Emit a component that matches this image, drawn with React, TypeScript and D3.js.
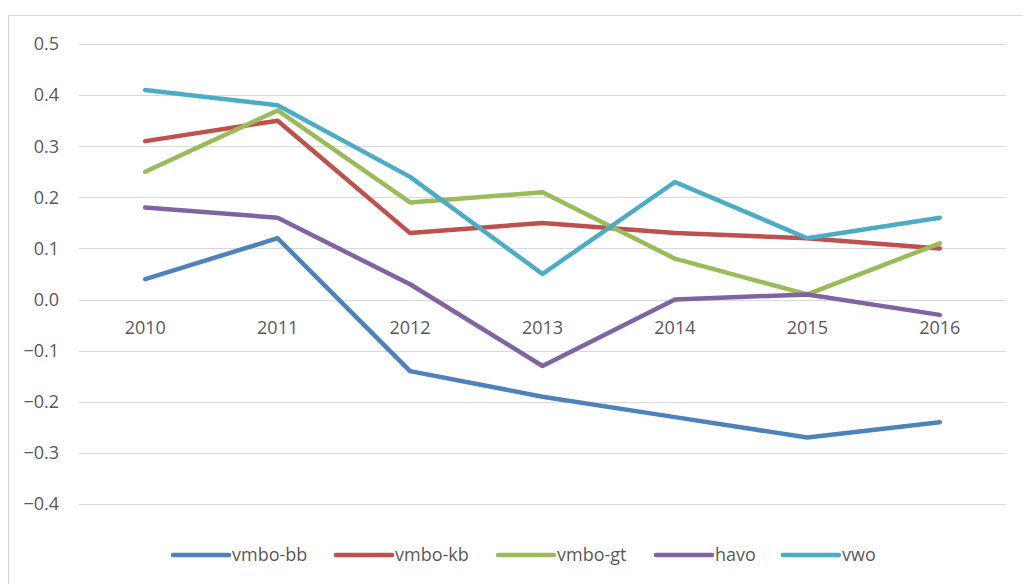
import React, { useEffect, useRef } from 'react'
import * as d3 from 'd3'

const years = ['2010', '2011', '2012', '2013', '2014', '2015', '2016']
const seriesNames = ['vmbo-bb', 'vmbo-kb', 'vmbo-gt', 'havo', 'vwo']
const colors = ['#4F81BD', '#C0504D', '#9BBB59', '#8064A2', '#4BACC6']
const vmboBB = [0.04, 0.12, -0.14, -0.19, -0.23, -0.27, -0.24]
const vmboKB = [0.31, 0.35, 0.13, 0.15, 0.13, 0.12, 0.10]
const vmboGT = [0.25, 0.37, 0.19, 0.21, 0.08, 0.01, 0.11]
const havo = [0.18, 0.16, 0.03, -0.13, 0.00, 0.01, -0.03]
const vwo = [0.41, 0.38, 0.24, 0.05, 0.23, 0.12, 0.16]
const yTicks = [0.5, 0.4, 0.3, 0.2, 0.1, 0.0, -0.1, -0.2, -0.3, -0.4]

const W = 1023
const H = 584
const FONT = "'Open Sans', 'Noto Sans', sans-serif"

export default function App() {
    const svgRef = useRef<SVGSVGElement>(null)

    useEffect(() => {
        if (!svgRef.current) return
        const svg = d3.select(svgRef.current)
        svg.selectAll('*').remove()

        const allSeries = [vmboBB, vmboKB, vmboGT, havo, vwo]

        // chart border
        svg.append('rect')
            .attr('x', 8.5).attr('y', 15.5)
            .attr('width', 1030).attr('height', 600)
            .attr('fill', '#fff')
            .attr('stroke', '#d9d9d9')

        const x = d3.scaleBand().domain(years).range([79, 1006])
        const y = d3.scaleLinear().domain([-0.4, 0.5]).range([504, 44])

        // gridlines
        svg.append('g').selectAll('line')
            .data(yTicks)
            .enter().append('line')
            .attr('x1', 79).attr('x2', 1006)
            .attr('y1', d => Math.round(y(d)) + 0.5)
            .attr('y2', d => Math.round(y(d)) + 0.5)
            .attr('stroke', '#d9d9d9')
            .attr('stroke-width', 1.2)

        // y labels
        svg.append('g').selectAll('text')
            .data(yTicks)
            .enter().append('text')
            .attr('x', 59)
            .attr('y', d => y(d))
            .attr('dy', '0.35em')
            .attr('text-anchor', 'end')
            .style('font-family', FONT)
            .style('font-size', '18px')
            .style('fill', '#595959')
            .text(d => d3.format('.1f')(d))

        // x labels (at zero line)
        svg.append('g').selectAll('text')
            .data(years)
            .enter().append('text')
            .attr('x', d => (x(d) as number) + x.bandwidth() / 2)
            .attr('y', y(0) + 28)
            .attr('dy', '0.35em')
            .attr('text-anchor', 'middle')
            .style('font-family', FONT)
            .style('font-size', '18px')
            .style('fill', '#595959')
            .text(d => d)

        const line = d3.line<number>()
            .x((d, i) => (x(years[i]) as number) + x.bandwidth() / 2)
            .y(d => y(d))

        allSeries.forEach((s, i) => {
            svg.append('path')
                .datum(s)
                .attr('fill', 'none')
                .attr('stroke', colors[i])
                .attr('stroke-width', 4.5)
                .attr('stroke-linejoin', 'round')
                .attr('stroke-linecap', 'round')
                .attr('d', line)
        })

        // legend
        const legendX = [173, 336, 498, 656, 783]
        const lg = svg.append('g')
        seriesNames.forEach((name, i) => {
            lg.append('line')
                .attr('x1', legendX[i]).attr('x2', legendX[i] + 56)
                .attr('y1', 555).attr('y2', 555)
                .attr('stroke', colors[i])
                .attr('stroke-width', 4.5)
                .attr('stroke-linecap', 'round')
            lg.append('text')
                .attr('x', legendX[i] + 59)
                .attr('y', 555)
                .attr('dy', '0.35em')
                .style('font-family', FONT)
                .style('font-size', '18px')
                .style('fill', '#595959')
                .text(name)
        })
    }, [])

    return (
        <svg ref={svgRef} width={W} height={H}
            style={{ position: 'absolute', left: 0, top: 0, background: '#fff' }} />
    )
}
